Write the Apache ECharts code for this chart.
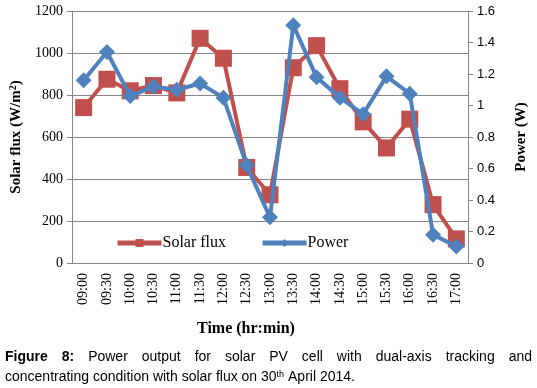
<!DOCTYPE html>
<html>
<head>
<meta charset="utf-8">
<script src="https://cdn.jsdelivr.net/npm/echarts@6/dist/echarts.min.js"></script>
<style>
  html, body { margin: 0; padding: 0; background: #fff; }
  #chart { width: 537px; height: 388px; }
</style>
</head>
<body>
<div id="chart"></div>
<script>
// 数据
var times = ["09:00", "09:30", "10:00", "10:30", "11:00", "11:30", "12:00", "12:30", "13:00",
  "13:30", "14:00", "14:30", "15:00", "15:30", "16:00", "16:30", "17:00"];
var solarFlux = [740, 875, 820, 845, 810, 1070, 975, 455, 325, 930, 1035, 830, 672, 548, 685, 278, 115];
var power = [1.16, 1.34, 1.06, 1.12, 1.10, 1.14, 1.05, 0.62, 0.29, 1.51, 1.18, 1.05, 0.945, 1.185, 1.075, 0.18, 0.105];
var captionLine1 = ["Figure", "8:", "Power", "output", "for", "solar", "PV", "cell", "with", "dual-axis", "tracking", "and"];

var serif = "Liberation Serif";
var sans = "Liberation Sans";
var axisGray = "#868686";

var chart = echarts.init(document.getElementById("chart"));

// 标题文字两端对齐
var ctx = document.createElement("canvas").getContext("2d");
function textW(t, bold) {
  ctx.font = (bold ? "bold " : "") + "14px " + sans;
  return ctx.measureText(t).width;
}
var lineLeft = 5, lineRight = 532;
var total = 0;
captionLine1.forEach(function (w, i) { total += textW(w, i < 2); });
var gap = (lineRight - lineLeft - total) / (captionLine1.length - 1);
var captionTexts = [];
var cx = lineLeft;
captionLine1.forEach(function (w, i) {
  captionTexts.push({
    type: "text",
    left: cx,
    top: 350,
    style: { text: w, font: (i < 2 ? "bold " : "") + "14px " + sans, fill: "#000" }
  });
  cx += textW(w, i < 2) + gap;
});
captionTexts.push({
  type: "text",
  left: lineLeft,
  top: 370,
  style: {
    text: "concentrating condition with solar flux on 30{sup|th} April 2014.",
    font: "14px " + sans,
    fill: "#000",
    rich: { sup: { fontSize: 9, verticalAlign: "top", fontFamily: sans, padding: [0, 0, 6, 0] } }
  }
});
captionTexts.push({
  type: "text",
  left: 197,
  top: 321,
  style: { text: "Time (hr:min)", font: "bold 16px " + serif, fill: "#000" }
});

var option = {
  animation: false,
  grid: { left: 70, right: 60, top: 11, bottom: 125 },
  legend: {
    left: 115,
    top: 235,
    padding: 0,
    itemWidth: 44,
    itemHeight: 10,
    itemGap: 34,
    lineStyle: { width: 5 },
    textStyle: { fontFamily: serif, fontSize: 16, color: "#000", padding: [0, 0, 0, -4] },
    data: ["Solar flux", "Power"]
  },
  xAxis: {
    type: "category",
    data: times,
    boundaryGap: true,
    axisLine: { lineStyle: { color: axisGray } },
    axisTick: { show: false },
    axisLabel: { rotate: 90, fontFamily: serif, fontSize: 14, color: "#000", margin: 10 }
  },
  yAxis: [
    {
      type: "value",
      min: 0,
      max: 1200,
      interval: 200,
      name: "Solar flux (W/m{sup|2})",
      nameLocation: "middle",
      nameRotate: 90,
      nameGap: 48,
      nameTextStyle: {
        fontFamily: serif, fontSize: 15, fontWeight: "bold", color: "#000",
        rich: { sup: { fontFamily: serif, fontSize: 10, fontWeight: "bold", padding: [0, 0, 6, 0] } }
      },
      axisLine: { show: true, lineStyle: { color: axisGray } },
      axisTick: { show: true, length: 5, lineStyle: { color: axisGray } },
      axisLabel: {
        fontFamily: serif, fontSize: 14, color: "#000", margin: 9,
        formatter: function (v) { return String(v); }
      },
      splitLine: { lineStyle: { color: axisGray } }
    },
    {
      type: "value",
      min: 0,
      max: 1.6,
      interval: 0.2,
      position: "right",
      name: "Power (W)",
      nameLocation: "middle",
      nameRotate: 90,
      nameGap: 46,
      nameTextStyle: { fontFamily: serif, fontSize: 15, fontWeight: "bold", color: "#000" },
      axisLine: { show: true, lineStyle: { color: axisGray } },
      axisTick: { show: true, length: 5, lineStyle: { color: axisGray } },
      axisLabel: {
        fontFamily: sans, fontSize: 13, color: "#000", margin: 9,
        formatter: function (v) { return String(Math.round(v * 10) / 10); }
      },
      splitLine: { show: false }
    }
  ],
  series: [
    {
      name: "Solar flux",
      type: "line",
      yAxisIndex: 0,
      data: solarFlux,
      symbol: "rect",
      symbolSize: 17,
      lineStyle: { color: "#C0504D", width: 4 },
      itemStyle: { color: "#C0504D" },
      z: 2
    },
    {
      name: "Power",
      type: "line",
      yAxisIndex: 1,
      data: power,
      symbol: "diamond",
      symbolSize: 16,
      lineStyle: { color: "#4F81BD", width: 4 },
      itemStyle: { color: "#4F81BD" },
      z: 3
    }
  ],
  graphic: captionTexts
};

chart.setOption(option);
</script>
</body>
</html>
